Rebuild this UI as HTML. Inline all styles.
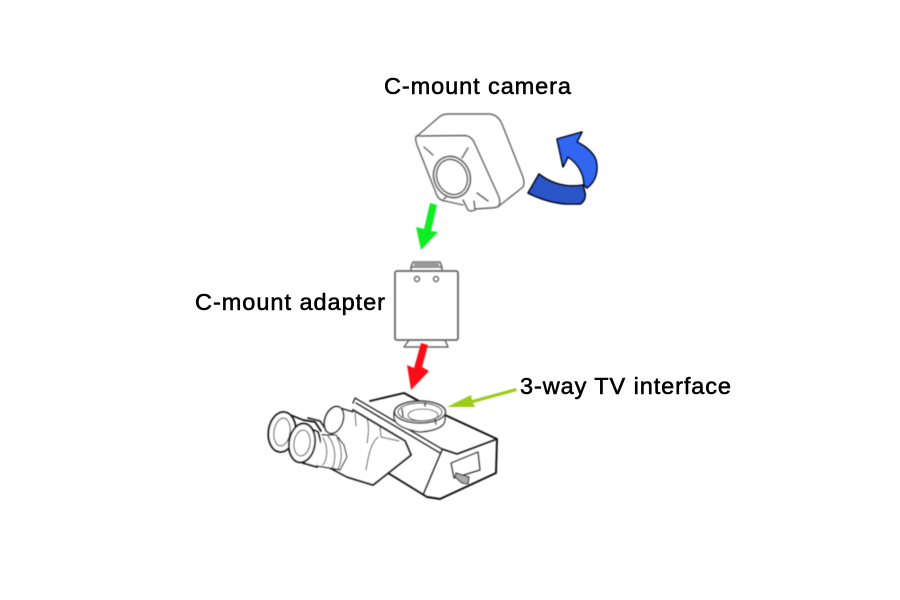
<!DOCTYPE html>
<html><head><meta charset="utf-8"><style>
html,body{margin:0;padding:0;background:#fff}
svg{display:block}
text{font-family:"Liberation Sans",Arial,sans-serif;font-size:23.500px;fill:#000;stroke:#000;stroke-width:.55px}
</style></head><body>
<svg width="900" height="600" viewBox="0 0 900 600" xmlns="http://www.w3.org/2000/svg">
<defs><filter id="b" x="-5%" y="-5%" width="110%" height="110%"><feGaussianBlur stdDeviation="0.4"/></filter></defs>
<rect width="900" height="600" fill="#fff"/>
<text x="384" y="94" textLength="187" lengthAdjust="spacing">C-mount camera</text>
<text x="195" y="310" textLength="190" lengthAdjust="spacing">C-mount adapter</text>
<text x="520" y="394" textLength="211" lengthAdjust="spacing">3-way TV interface</text>

<g filter="url(#b)">
<!-- camera -->
<g fill="none" stroke="#666" stroke-width="1.400" stroke-linejoin="round" stroke-linecap="round">
<path d="M416 137L438 118Q442 114 448 114L490 114Q498 115 502 124L523 177Q525 184 523 187L499 206Q496 208 490 208L475 209"/>
<path d="M416 137Q416 135 420 136L465 135.500Q471 136 474 142L499 197Q501 203 498 207"/>
<path d="M416 137Q415 139 417 145L436 193Q438 200 445 201L463 205"/>
<path d="M424 147L433 155M468 148L462 158M477 193L488 201M446 197L444 199"/>
<ellipse cx="452" cy="177" rx="18" ry="21" transform="rotate(-22 452 177)" stroke-width="1.600"/>
<ellipse cx="452" cy="177" rx="15" ry="18" transform="rotate(-22 452 177)"/>
<path d="M463 200L468 210Q470 212 475 210L474 201"/>
</g>
<!-- blue arrow -->
<path d="M582 132L557 139L563 167L568 157C576 162 584 172 584 185L587 188C595 182 599 172 596 160C593 152 585 146 577 142Z" fill="#3366f0" stroke="#05050f" stroke-width="1.600" stroke-linejoin="round"/>
<path d="M539 174L528 193C540 199 553 203 566 204L580 204C584 202 586 197 585 193L583 185C566 188 552 184 539 174Z" fill="#2a55c8" stroke="#05050f" stroke-width="1.600" stroke-linejoin="round"/>
<!-- green arrow -->
<path d="M430 203L437 205L431 231L438 232L421 250L416 227L424 229Z" fill="#11ee22"/>

<!-- adapter -->
<g fill="none" stroke="#666" stroke-linejoin="round">
<rect x="395" y="271" width="63" height="69" rx="2" stroke-width="1.800"/>
<path d="M411 271V267L413 262H440L442 267V271M411 267H442" stroke-width="1.500"/>
<rect x="414" y="262" width="25" height="5" fill="#999" stroke="none"/>
<path d="M409 340L404 347H448L445 340" stroke-width="1.500"/>
<circle cx="417" cy="279" r="2.500" stroke-width="1.400"/>
<circle cx="436" cy="279" r="2.500" stroke-width="1.400"/>
</g>
<!-- red arrow -->
<path d="M421 343L428 345L422 367L429 371L411 390L407 365L414 368Z" fill="#fa0a14"/>

<!-- yellow-green arrow -->
<path d="M516 388L472 400L471 395L447 407L475 407L473 403L517 391Z" fill="#9acd16"/>

<!-- microscope -->
<g fill="none" stroke="#111" stroke-linejoin="round" stroke-linecap="round">
<!-- body -->
<path d="M370 401L404 393L445 415L497 439L496 473L440 499L427 497L388 473" stroke-width="1.900"/>
<path d="M404 393L420 402" stroke-width="1.500"/>
<path d="M497 439L457 454L442 449" stroke-width="1.500"/>
<path d="M442 450L423 495" stroke-width="1.200"/>
<!-- rail -->
<path d="M355 398L442 449M353 403L355 398M356 403L440 453" stroke-width="1.200"/>
<!-- prism head -->
<path d="M353 410L405 441L411 455L373 485L347 477L330 468" fill="#fff" stroke-width="1.800"/>
<path d="M355 412L356 426M366 417C369 422 369 432 367 443M380 427L381 437L399 441M378 437C370 444 368 458 366 470" stroke="#444" stroke-width="1"/>
<!-- tube cap -->
<path d="M340 407L355 412L352 428L336 438L326 434Z" fill="#fff" stroke="none"/>
<path d="M340 408L353 412" stroke-width="1.500"/>
<ellipse cx="334" cy="420" rx="9" ry="14" transform="rotate(20 334 420)" fill="#fff" stroke-width="1.500"/>
<!-- left eyepiece body -->
<path d="M283 412L303 420L315 422L321 431" stroke-width="1.700"/>
<path d="M308 418L320 421L325 428" stroke="#333" stroke-width="1.800"/>
<!-- left eyepiece -->
<ellipse cx="282" cy="432" rx="13.500" ry="20" transform="rotate(8 282 432)" fill="#fff" stroke-width="1.900"/>
<ellipse cx="282" cy="432" rx="8" ry="14" transform="rotate(8 282 432)" stroke="#555" stroke-width="1.100"/>
<!-- right eyepiece body -->
<path d="M302 425L318 432L323 450L317 467L303 463Z" fill="#fff" stroke-width="1.700"/>
<path d="M322 435L336 435L344 445L347 457L340 470L330 468L317 466" fill="#fff" stroke-width="1.200"/>
<path d="M328 436C335 444 337 458 332 469M337 438C342 446 343 460 338 469" stroke="#444" stroke-width="1"/>
<path d="M323 438C328 446 328 458 323 465" stroke="#444" stroke-width="1"/>
<!-- right eyepiece -->
<ellipse cx="302" cy="443" rx="13" ry="19.500" transform="rotate(8 302 443)" fill="#fff" stroke-width="1.900"/>
<ellipse cx="302" cy="443" rx="8" ry="13" transform="rotate(8 302 443)" stroke="#555" stroke-width="1.100"/>
<!-- port -->
<path d="M394 412V418Q396 428 420 432Q444 430 445 420V412" fill="#fff" stroke="#333" stroke-width="1.300"/>
<ellipse cx="420" cy="412" rx="25.500" ry="11" fill="#fff" stroke="#333" stroke-width="1.500"/>
<ellipse cx="420" cy="412" rx="22" ry="9" stroke="#555" stroke-width="1.200"/>
<ellipse cx="423" cy="415" rx="15" ry="6" stroke="#666" stroke-width="1.100"/>
<path d="M435 419L436 424M425 403V406M402 409L403 416" stroke="#333" stroke-width="1.500"/>
<!-- side window -->
<path d="M451 463L478 452L480 470L454 478Z" stroke="#333" stroke-width="1.200"/>
<path d="M456 473L469 477L468 484L462 483L455 477Z" fill="#aaa" stroke="#333" stroke-width="1.100"/>
</g>
</g>
</svg>
</body></html>
